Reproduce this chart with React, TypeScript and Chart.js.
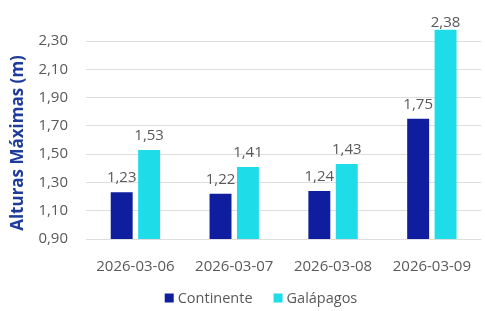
import React, { useEffect, useRef } from "react";
import { Chart, registerables } from "chart.js";

Chart.register(...registerables);

const categories = ["2026-03-06", "2026-03-07", "2026-03-08", "2026-03-09"];
const continente = [1.23, 1.22, 1.24, 1.75];
const galapagos = [1.53, 1.41, 1.43, 2.38];
const yTicks = [0.9, 1.1, 1.3, 1.5, 1.7, 1.9, 2.1, 2.3];
const yTitle = "Alturas Máximas (m)";

const FONT = "'Open Sans', 'Noto Sans', sans-serif";
const TEXT = "#595959";

const fmt = (v: number) => v.toFixed(2).replace(".", ",");

const labelPlugin = {
  id: "valueLabels",
  afterDatasetsDraw(chart: any) {
    const ctx = chart.ctx;
    ctx.save();
    ctx.font = `15px ${FONT}`;
    ctx.fillStyle = TEXT;
    ctx.textAlign = "center";
    ctx.textBaseline = "alphabetic";
    chart.data.datasets.forEach((ds: any, i: number) => {
      const meta = chart.getDatasetMeta(i);
      meta.data.forEach((el: any, j: number) => {
        const y = Math.max(el.y - 10, 27);
        ctx.fillText(fmt(ds.data[j]), el.x, y);
      });
    });
    ctx.restore();
  },
};

const titlePlugin = {
  id: "yTitle",
  afterDraw(chart: any) {
    const ctx = chart.ctx;
    ctx.save();
    ctx.translate(18, 143);
    ctx.rotate(-Math.PI / 2);
    ctx.font = `bold 17px ${FONT}`;
    ctx.fillStyle = "#1F3C9A";
    ctx.textAlign = "center";
    ctx.textBaseline = "middle";
    ctx.fillText(yTitle, 0, 0);
    ctx.restore();
  },
};

const legendPlugin = {
  id: "customLegend",
  afterDraw(chart: any) {
    const ctx = chart.ctx;
    ctx.save();
    ctx.font = `14.5px ${FONT}`;
    ctx.textBaseline = "middle";
    ctx.textAlign = "left";
    const box = 9;
    const gap = 4;
    const itemGap = 21;
    const items = chart.data.datasets.map((ds: any) => ({
      label: ds.label,
      color: ds.backgroundColor,
      w: box + gap + ctx.measureText(ds.label).width,
    }));
    const total = items.reduce((a: number, it: any) => a + it.w, 0) + itemGap * (items.length - 1);
    const cy = 298;
    let x = 261 - total / 2;
    items.forEach((it: any) => {
      ctx.fillStyle = it.color;
      ctx.fillRect(x, cy - box / 2, box, box);
      ctx.fillStyle = TEXT;
      ctx.fillText(it.label, x + box + gap, cy + 0.5);
      x += it.w + itemGap;
    });
    ctx.restore();
  },
};

export default function App() {
  const ref = useRef<HTMLCanvasElement>(null);
  useEffect(() => {
    if (!ref.current) return;
    const chart = new Chart(ref.current, {
      type: "bar",
      data: {
        labels: categories,
        datasets: [
          { label: "Continente", data: continente, backgroundColor: "#0F1E9E", categoryPercentage: 0.555, barPercentage: 0.8 },
          { label: "Galápagos", data: galapagos, backgroundColor: "#1EDDE8", categoryPercentage: 0.555, barPercentage: 0.8 },
        ],
      },
      options: {
        animation: false,
        responsive: true,
        maintainAspectRatio: false,
        layout: { padding: { top: 26, right: 0, left: 37, bottom: 26 } },
        plugins: {
          legend: { display: false },
          tooltip: { enabled: false },
        },
        scales: {
          x: {
            grid: { display: false, drawTicks: false },
            border: { display: false },
            ticks: { color: TEXT, font: { family: FONT, size: 15 }, padding: 19, maxRotation: 0 },
            afterFit: (s: any) => {
              s.height = 46;
            },
          },
          y: {
            min: 0.9,
            max: 2.4,
            afterBuildTicks: (axis: any) => {
              axis.ticks = yTicks.map((v) => ({ value: v }));
            },
            grid: { color: "#DEDEDE", drawTicks: false },
            border: { display: false },
            ticks: { color: TEXT, font: { family: FONT, size: 15 }, padding: 18, callback: (v: any) => fmt(Number(v)) },
            afterFit: (s: any) => {
              s.width = 49;
            },
          },
        },
      },
      plugins: [labelPlugin, titlePlugin, legendPlugin],
    });
    return () => chart.destroy();
  }, []);
  return (
    <div style={{ position: "fixed", left: 0, top: 0, width: 485, height: 311, overflow: "hidden" }}>
      <div style={{ width: 490, height: 311 }}>
        <canvas ref={ref} />
      </div>
    </div>
  );
}
